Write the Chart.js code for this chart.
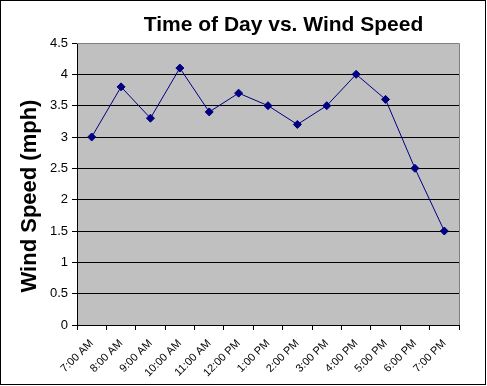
<!DOCTYPE html>
<html>
<head>
<meta charset="utf-8">
<script src="https://cdn.jsdelivr.net/npm/chart.js@4/dist/chart.umd.min.js"></script>
<style>
html,body{margin:0;padding:0;background:#fff;}
#wrap{position:relative;width:487px;height:386px;}
</style>
</head>
<body>
<div id="wrap"><canvas id="c" width="487" height="386"></canvas></div>
<script>
const categories = ["7:00 AM","8:00 AM","9:00 AM","10:00 AM","11:00 AM","12:00 PM","1:00 PM","2:00 PM","3:00 PM","4:00 PM","5:00 PM","6:00 PM","7:00 PM"];
const windSpeed = [3.0, 3.8, 3.3, 4.1, 3.4, 3.7, 3.5, 3.2, 3.5, 4.0, 3.6, 2.5, 1.5];
const yMin = 0, yMax = 4.5, yStep = 0.5;
const chartTitle = "Time of Day vs. Wind Speed";
const yTitle = "Wind Speed (mph)";

const FONT = "Arial, 'Liberation Sans', sans-serif";

const decor = {
  id: 'decor',
  beforeDraw(chart) {
    const ctx = chart.ctx, a = chart.chartArea;
    ctx.save();
    ctx.fillStyle = '#fff';
    ctx.fillRect(0, 0, chart.width, chart.height);
    ctx.fillStyle = '#c0c0c0';
    ctx.fillRect(a.left, a.top, a.right - a.left, a.bottom - a.top);
    ctx.restore();
  },
  afterDraw(chart) {
    const ctx = chart.ctx, a = chart.chartArea;
    ctx.save();
    ctx.strokeStyle = '#808080';
    ctx.lineWidth = 1;
    ctx.beginPath();
    ctx.moveTo(a.left, a.top + 0.5);
    ctx.lineTo(a.right + 0.5, a.top + 0.5);
    ctx.lineTo(a.right + 0.5, a.bottom);
    ctx.stroke();
    ctx.strokeStyle = '#000';
    ctx.strokeRect(0.5, 0.5, 485, 384);
    ctx.fillStyle = '#000';
    ctx.font = "bold 21px " + FONT;
    ctx.textAlign = 'center';
    ctx.textBaseline = 'alphabetic';
    ctx.fillText(chartTitle, 283.5, 31);
    ctx.translate(36, 196);
    ctx.rotate(-Math.PI / 2);
    ctx.font = "bold 22px " + FONT;
    ctx.fillText(yTitle, 0, 0);
    ctx.restore();
  }
};

new Chart(document.getElementById('c'), {
  type: 'line',
  data: {
    labels: categories,
    datasets: [{
      data: windSpeed,
      borderColor: '#000080',
      backgroundColor: '#000080',
      borderWidth: 1,
      pointStyle: 'rectRot',
      pointRadius: 4,
      pointBorderWidth: 1,
      tension: 0,
      fill: false
    }]
  },
  options: {
    responsive: false,
    animation: false,
    devicePixelRatio: 1,
    layout: { padding: { left: 0, top: 43, right: 28, bottom: 0 } },
    plugins: { legend: { display: false }, title: { display: false }, tooltip: { enabled: false } },
    scales: {
      x: {
        type: 'category',
        offset: true,
        afterFit(s) { s.height = 61; },
        grid: { offset: true, drawOnChartArea: false, drawTicks: true, tickLength: 5, color: '#000', lineWidth: 1 },
        border: { color: '#000', width: 1 },
        ticks: { minRotation: 45, maxRotation: 45, autoSkip: false, color: '#000', font: { family: FONT, size: 11 }, padding: 7 }
      },
      y: {
        min: yMin, max: yMax,
        afterFit(s) { s.width = 77; },
        grid: {
          color: (c) => (c.tick && c.tick.value === yMax) ? 'rgba(0,0,0,0)' : '#000',
          lineWidth: 1, drawTicks: true, tickLength: 5,
          tickColor: '#000'
        },
        border: { color: '#000', width: 1 },
        ticks: { stepSize: yStep, color: '#000', font: { family: FONT, size: 13 }, padding: 4,
          callback: (v) => String(Math.round(v * 10) / 10) }
      }
    }
  },
  plugins: [decor]
});
</script>
</body>
</html>
